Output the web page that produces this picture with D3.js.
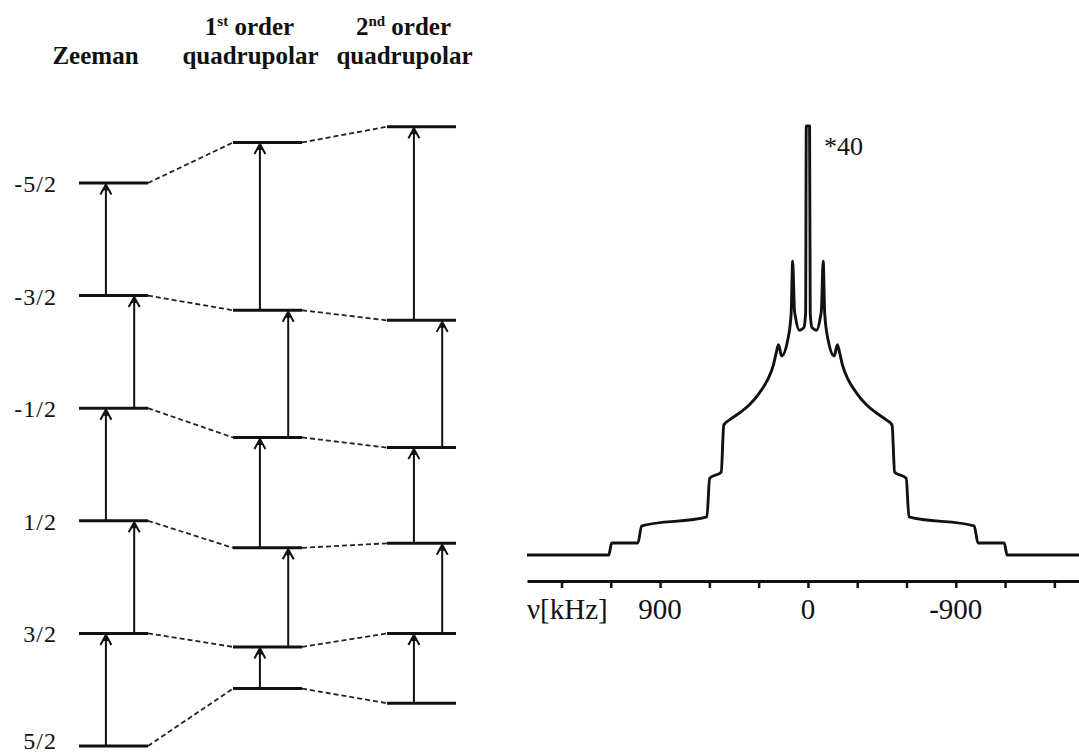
<!DOCTYPE html>
<html>
<head>
<meta charset="utf-8">
<script src="https://cdn.jsdelivr.net/npm/d3@7/dist/d3.min.js"></script>
<style>
  html, body { margin: 0; padding: 0; background: #fff; }
  svg { display: block; }
  text { font-family: "Liberation Serif", Tinos, "Times New Roman", Times, "DejaVu Serif", serif; fill: #111; }
</style>
</head>
<body>
<svg id="chart" width="1079" height="753"></svg>
<script>
// ---- Energy-level diagram data (arbitrary energy units) ----
const spinStates = ["-5/2", "-3/2", "-1/2", "1/2", "3/2", "5/2"];
const columns = ["zeeman", "first", "second"];
const zeemanLevels = [250, 150, 50, -50, -150, -250];
const firstOrderLevels = [286, 137, 24, -74, -162, -199];
const secondOrderLevels = [300, 128, 15, -70, -150, -212];

// ---- Powder spectrum: frequency (kHz) and intensity (central peak clipped) ----
const freqKHz = [
  1710, 1212, 1195, 1035, 1012, 615, 598, 528, 512, 477, 417, 356, 295, 246, 210, 192, 179,
  160, 123, 102, 93, 82, 76, 52, 25, 14, 10,
  -10, -14, -25, -52, -76, -82, -93, -102, -123, -160,
  -179, -192, -210, -246, -295, -356, -417, -477, -512, -528, -598, -615, -1012, -1035, -1195, -1212, -1650
];
const intensity = [
  0, 0, 2.8, 2.8, 6.8, 8.9, 17.9, 19.3, 30.3, 31.5, 33.1, 35.0, 37.8, 40.8, 44.3, 47.3, 49.0,
  46.4, 50.1, 56.4, 68.5, 57.0, 55.5, 52.4, 53.0, 56.4, 100,
  100, 56.4, 53.0, 52.4, 55.5, 57.0, 68.5, 56.4, 50.1, 46.4,
  49.0, 47.3, 44.3, 40.8, 37.8, 35.0, 33.1, 31.5, 30.3, 19.3, 17.9, 8.9, 6.8, 2.8, 2.8, 0, 0
];
const axisTicks = [1500, 1200, 900, 600, 300, 0, -300, -600, -900, -1200, -1500];
const tickLabelValues = [900, 0, -900];
const tickLabels = ["900", "0", "-900"];
const axisTitle = "ν[kHz]";
const scaleNote = "*40";

const svg = d3.select("#chart");

// ================= Left: energy levels =================
const levelSets = [zeemanLevels, firstOrderLevels, secondOrderLevels];
const colX = d3.scaleBand().domain(columns).range([79, 456]).paddingInner(0.552).paddingOuter(0);
const eY = d3.scaleLinear().domain([-250, 250]).range([746, 183]);
const bw = colX.bandwidth();

const diagram = svg.append("g");

// dashed connectors between columns
for (let c = 0; c < columns.length - 1; c++) {
  const a = levelSets[c], b = levelSets[c + 1];
  diagram.append("g").selectAll("line").data(d3.range(spinStates.length)).join("line")
    .attr("x1", colX(columns[c]) + bw)
    .attr("y1", i => eY(a[i]))
    .attr("x2", colX(columns[c + 1]))
    .attr("y2", i => eY(b[i]))
    .attr("stroke", "#222").attr("stroke-width", 1.8)
    .attr("stroke-dasharray", "5,3");
}

// transitions (arrows between neighbouring levels)
levelSets.forEach((levels, c) => {
  const x0 = colX(columns[c]);
  const g = diagram.append("g");
  d3.range(spinStates.length - 1).forEach(i => {
    const x = x0 + (i % 2 === 0 ? 0.39 : 0.8) * bw;
    const yTop = eY(levels[i]) + 1.5;
    const yBot = eY(levels[i + 1]);
    g.append("line")
      .attr("x1", x).attr("x2", x).attr("y1", yBot).attr("y2", yTop + 1)
      .attr("stroke", "#111").attr("stroke-width", 2);
    g.append("path")
      .attr("d", `M${x - 5.5},${yTop + 10} L${x},${yTop} L${x + 5.5},${yTop + 10}`)
      .attr("fill", "none").attr("stroke", "#111").attr("stroke-width", 2)
      .attr("stroke-linejoin", "miter");
    g.append("path")
      .attr("d", `M${x - 2.5},${yTop + 6} L${x},${yTop} L${x + 2.5},${yTop + 6} Z`)
      .attr("fill", "#111");
  });
});

// level lines
levelSets.forEach((levels, c) => {
  const x0 = colX(columns[c]);
  diagram.append("g").selectAll("line").data(levels).join("line")
    .attr("x1", x0).attr("x2", x0 + bw)
    .attr("y1", d => eY(d)).attr("y2", d => eY(d))
    .attr("stroke", "#111").attr("stroke-width", 3);
});

// spin-state labels
diagram.append("g").selectAll("text").data(spinStates).join("text")
  .attr("x", 57).attr("y", (d, i) => Math.min(eY(zeemanLevels[i]) + 9, 749))
  .attr("text-anchor", "end")
  .attr("font-size", 24).attr("letter-spacing", 1)
  .text(d => d);

// column headings
const head = svg.append("g").attr("font-weight", "bold").attr("font-size", 25);
const hc = c => colX(c) + bw / 2 - 18;
head.append("text").attr("x", hc("zeeman")).attr("y", 64).attr("text-anchor", "middle").text("Zeeman");
[["first", "1", "st"], ["second", "2", "nd"]].forEach(([c, n, sup]) => {
  const t = head.append("text").attr("x", hc(c)).attr("y", 35).attr("text-anchor", "middle");
  t.append("tspan").text(n);
  t.append("tspan").attr("font-size", 15).attr("dy", -9).text(sup);
  t.append("tspan").attr("dy", 9).text(" order");
  head.append("text").attr("x", hc(c) + 1).attr("y", 64).attr("text-anchor", "middle").text("quadrupolar");
});

// ================= Right: spectrum =================
const sx = d3.scaleLinear().domain([1710, -1650]).range([527, 1079]);
const sy = d3.scaleLinear().domain([0, 100]).range([555, 126]);

const pts = freqKHz.map((f, i) => [f, intensity[i]]);
const line = d3.line().x(d => sx(d[0])).y(d => sy(d[1])).curve(d3.curveMonotoneX);

svg.append("path")
  .attr("d", line(pts))
  .attr("fill", "none").attr("stroke", "#111").attr("stroke-width", 2.9)
  .attr("stroke-linejoin", "round");

const axis = d3.axisBottom(sx).tickValues(axisTicks).tickSize(7).tickSizeOuter(0).tickFormat("");
const ax = svg.append("g").attr("transform", "translate(0,581)").call(axis);
ax.select(".domain").attr("stroke", "#111").attr("stroke-width", 3);
ax.selectAll(".tick line").attr("stroke", "#111").attr("stroke-width", 2.5);

svg.append("g").selectAll("text").data(tickLabelValues).join("text")
  .attr("x", d => sx(d)).attr("y", 619)
  .attr("text-anchor", "middle").attr("font-size", 29)
  .text((d, i) => tickLabels[i]);

svg.append("text").attr("x", 527).attr("y", 619).attr("font-size", 29).text(axisTitle);
svg.append("text").attr("x", 824).attr("y", 155).attr("font-size", 26).text(scaleNote);
</script>
</body>
</html>
